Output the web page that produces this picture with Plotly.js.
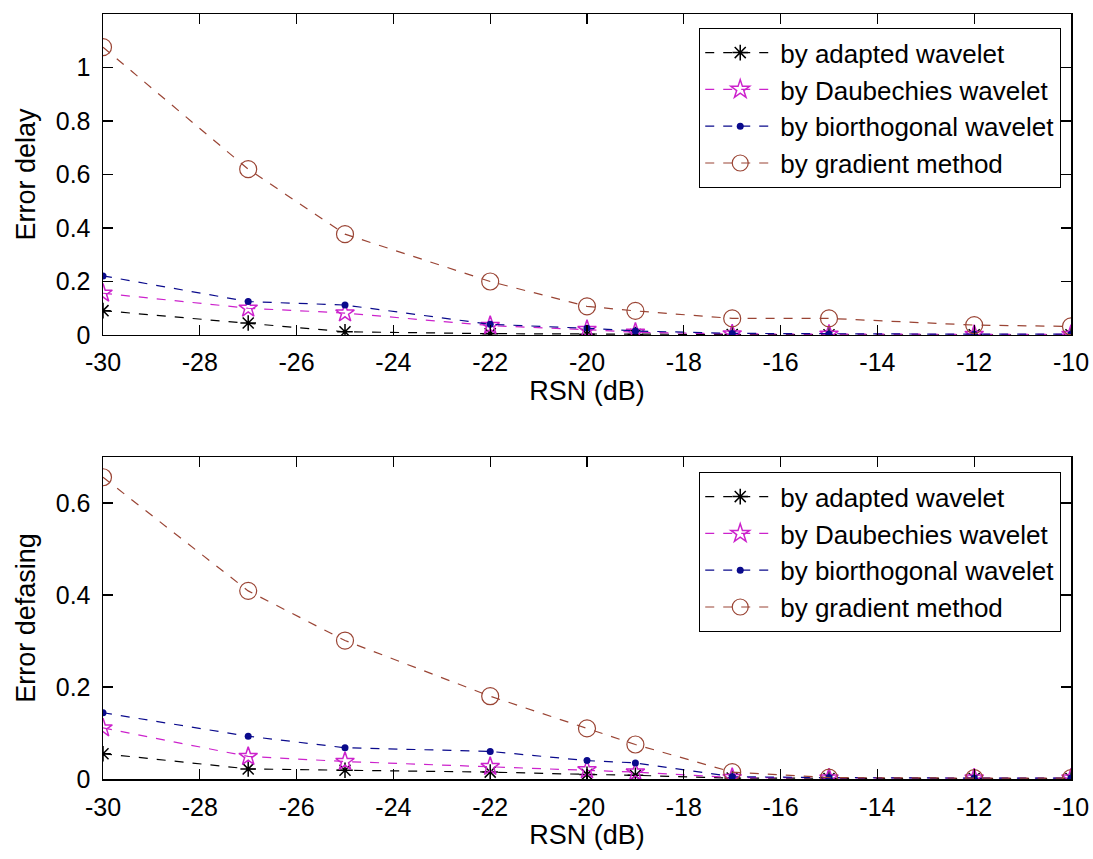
<!DOCTYPE html>
<html>
<head>
<meta charset="utf-8">
<script src="https://cdn.plot.ly/plotly-3.0.1.min.js"></script>
<style>html,body{margin:0;padding:0;background:#fff;}#chart{width:1093px;height:859px;}</style>
</head>
<body>
<div id="chart"></div>
<script>
// RSN (dB) values
const rsn = [-30, -27, -25, -22, -20, -19, -17, -15, -12, -10];
const xTicks = [-30, -28, -26, -24, -22, -20, -18, -16, -14, -12, -10];

// Top panel: Error delay
const delayAdapted = [0.091, 0.045, 0.012, 0.005, 0.003, 0.002, 0.002, 0.001, 0.001, 0.001];
const delayDaubechies = [0.156, 0.100, 0.082, 0.035, 0.020, 0.010, 0.004, 0.003, 0.002, 0.002];
const delayBiorthogonal = [0.221, 0.125, 0.112, 0.040, 0.025, 0.015, 0.006, 0.004, 0.003, 0.003];
const delayGradient = [1.076, 0.620, 0.377, 0.200, 0.107, 0.090, 0.062, 0.062, 0.037, 0.032];
const delayTicks = [0, 0.2, 0.4, 0.6, 0.8, 1];
const delayTickText = ['0', '0.2', '0.4', '0.6', '0.8', '1'];

// Bottom panel: Error defasing
const defAdapted = [0.055, 0.022, 0.019, 0.015, 0.010, 0.008, 0.002, 0.001, 0.001, 0.001];
const defDaubechies = [0.111, 0.049, 0.038, 0.027, 0.020, 0.015, 0.003, 0.002, 0.002, 0.002];
const defBiorthogonal = [0.144, 0.093, 0.068, 0.060, 0.040, 0.035, 0.005, 0.003, 0.002, 0.002];
const defGradient = [0.656, 0.409, 0.301, 0.180, 0.110, 0.075, 0.015, 0.003, 0.002, 0.002];
const defTicks = [0, 0.2, 0.4, 0.6];
const defTickText = ['0', '0.2', '0.4', '0.6'];

const seriesNames = ['by adapted wavelet', 'by Daubechies wavelet', 'by biorthogonal wavelet', 'by gradient method'];

const styles = [
  {color: '#000000', symbol: 'asterisk-open', size: 13, mline: 1.5},
  {color: '#cc22cc', symbol: 'star-open', size: 14, mline: 1.5},
  {color: '#0a0a8c', symbol: 'circle', size: 7, mline: 0},
  {color: '#9a4434', symbol: 'circle-open', size: 17, mline: 1.2}
];

function mk(y, i, xa, ya, leg) {
  const s = styles[i];
  return {
    x: rsn, y: y, xaxis: xa, yaxis: ya, name: seriesNames[i], legend: leg,
    type: 'scatter', mode: 'lines+markers',
    line: {color: s.color, width: 1.2, dash: 'dash'},
    marker: {color: s.color, symbol: s.symbol, size: s.size, line: {color: s.color, width: s.mline}}
  };
}

const traces = [
  mk(delayAdapted, 0, 'x', 'y', 'legend'),
  mk(delayDaubechies, 1, 'x', 'y', 'legend'),
  mk(delayBiorthogonal, 2, 'x', 'y', 'legend'),
  mk(delayGradient, 3, 'x', 'y', 'legend'),
  mk(defAdapted, 0, 'x2', 'y2', 'legend2'),
  mk(defDaubechies, 1, 'x2', 'y2', 'legend2'),
  mk(defBiorthogonal, 2, 'x2', 'y2', 'legend2'),
  mk(defGradient, 3, 'x2', 'y2', 'legend2')
];

const FONT = 'Liberation Sans, Arial, sans-serif';
const tickFont = {family: FONT, size: 25, color: '#000'};
const titleFont = {family: FONT, size: 27, color: '#000'};

function xAxis(anchor) {
  return {
    anchor: anchor, range: [-30, -10], tickvals: xTicks, ticktext: xTicks.map(String),
    ticks: 'inside', ticklen: 10, tickwidth: 1.2, tickcolor: '#000',
    showline: true, linecolor: '#000', linewidth: 1.5, mirror: 'allticks',
    showgrid: false, zeroline: false, tickfont: tickFont, ticklabelstandoff: 5,
    ticklabeloverflow: 'allow',
    title: {text: 'RSN (dB)', font: titleFont, standoff: 5}
  };
}
function yAxis(anchor, domain, range, tv, tt, title) {
  return {
    anchor: anchor, domain: domain, range: range, tickvals: tv, ticktext: tt,
    ticks: 'inside', ticklen: 10, tickwidth: 1.2, tickcolor: '#000',
    showline: true, linecolor: '#000', linewidth: 1.5, mirror: 'allticks',
    showgrid: false, zeroline: false, tickfont: tickFont, ticklabelstandoff: 6,
    ticklabeloverflow: 'allow',
    title: {text: title, font: titleFont, standoff: 12}
  };
}

const legendCommon = {
  xref: 'paper', yref: 'paper', xanchor: 'right', yanchor: 'top',
  bgcolor: '#ffffff', bordercolor: '#000', borderwidth: 1.2,
  font: {family: FONT, size: 26, color: '#000'}, tracegroupgap: 0, itemwidth: 70
};

const layout = {
  width: 1093, height: 859,
  margin: {l: 103, r: 22, t: 14, b: 80},
  paper_bgcolor: '#fff', plot_bgcolor: '#fff',
  showlegend: true,
  xaxis: xAxis('y'),
  yaxis: yAxis('x', [0.5804, 1], [0, 1.2], delayTicks, delayTickText, 'Error delay'),
  xaxis2: xAxis('y2'),
  yaxis2: yAxis('x2', [0, 0.4209], [0, 0.7], defTicks, defTickText, 'Error defasing'),
  legend: Object.assign({x: 0.9897, y: 0.9817}, legendCommon),
  legend2: Object.assign({x: 0.9897, y: 0.4013}, legendCommon)
};

Plotly.newPlot('chart', traces, layout, {displayModeBar: false, staticPlot: true});
</script>
</body>
</html>
